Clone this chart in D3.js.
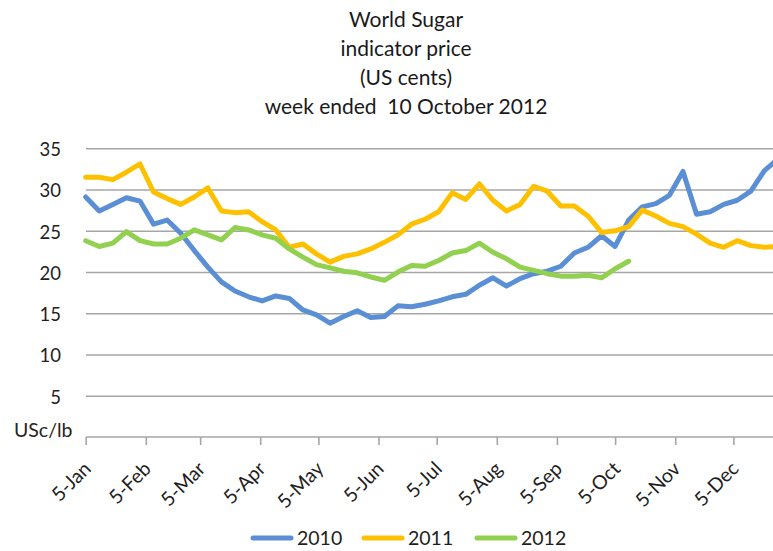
<!DOCTYPE html>
<html>
<head>
<meta charset="utf-8">
<script src="https://cdn.jsdelivr.net/npm/d3@7"></script>
<style>
  body { margin: 0; background: #fff; }
  svg { display: block; font-family: Lato, "Open Sans", sans-serif; }
</style>
</head>
<body>
<svg id="chart" width="773" height="551"></svg>
<script>
// --- Data ---
const titleLines = ["World Sugar", "indicator price", "(US cents)", "week ended  10 October 2012"];

// week dates (month-day), plotted on one calendar year
const weeks = [
  "01-05", "01-12", "01-19", "01-26", "02-02", "02-09", "02-16", "02-23",
  "03-02", "03-09", "03-16", "03-23", "03-30", "04-06", "04-13", "04-20", "04-27",
  "05-04", "05-11", "05-18", "05-25", "06-01", "06-08", "06-15", "06-22", "06-29",
  "07-06", "07-13", "07-20", "07-27", "08-03", "08-10", "08-17", "08-24", "08-31",
  "09-07", "09-14", "09-21", "09-28", "10-05", "10-12", "10-19", "10-26",
  "11-02", "11-09", "11-16", "11-23", "11-30", "12-07", "12-14", "12-21", "12-28"
];

const price2010 = [
  29.1, 27.4, 28.2, 29.0, 28.6, 25.8, 26.3, 24.7, 22.6, 20.6, 18.8, 17.7, 17.0,
  16.5, 17.1, 16.8, 15.4, 14.8, 13.8, 14.6, 15.3, 14.5, 14.6, 15.9, 15.8, 16.1,
  16.5, 17.0, 17.3, 18.4, 19.3, 18.3, 19.2, 19.8, 20.1, 20.7, 22.3, 23.0, 24.4,
  23.1, 26.3, 27.9, 28.3, 29.3, 32.2, 27.0, 27.3, 28.2, 28.7, 29.8, 32.3, 33.7
];
const price2011 = [
  31.5, 31.5, 31.2, 32.1, 33.1, 29.7, 28.9, 28.2, 29.1, 30.2, 27.4, 27.2, 27.3,
  26.1, 25.1, 23.0, 23.4, 22.2, 21.2, 21.9, 22.2, 22.8, 23.6, 24.5, 25.8, 26.4,
  27.3, 29.6, 28.8, 30.7, 28.7, 27.4, 28.2, 30.4, 29.8, 28.0, 28.0, 26.8, 24.8,
  25.0, 25.5, 27.5, 26.8, 25.9, 25.5, 24.6, 23.5, 23.0, 23.8, 23.2, 23.0, 23.1
];
const price2012 = [
  23.8, 23.1, 23.5, 24.9, 23.8, 23.4, 23.4, 24.1, 25.1, 24.5, 23.9, 25.4, 25.1,
  24.5, 24.1, 22.8, 21.8, 20.9, 20.5, 20.1, 19.9, 19.4, 19.0, 20.0, 20.8, 20.7,
  21.4, 22.3, 22.6, 23.5, 22.4, 21.6, 20.6, 20.2, 19.8, 19.5, 19.5, 19.6, 19.3,
  20.4, 21.3
];

const seriesNames = ["2010", "2011", "2012"];
const seriesValues = [price2010, price2011, price2012];
const seriesColors = ["#5a8fd6", "#ffc000", "#92d050"];

const yTicks = [5, 10, 15, 20, 25, 30, 35];
const xTickDates = ["01-05", "02-05", "03-05", "04-05", "05-05", "06-05",
                    "07-05", "08-05", "09-05", "10-05", "11-05", "12-05"];
const xTickLabels = ["5-Jan", "5-Feb", "5-Mar", "5-Apr", "5-May", "5-Jun",
                     "5-Jul", "5-Aug", "5-Sep", "5-Oct", "5-Nov", "5-Dec"];

// --- Setup ---
const svg = d3.select("#chart");
const W = +svg.attr("width");
const plotLeft = 86, plotRight = W, plotBottom = 437, plotTop = 148.3;
const parseDay = s => d3.timeParse("%Y-%m-%d")("2010-" + s);

const x = d3.scaleTime()
  .domain([parseDay("01-05"), parseDay("12-05")])
  .range([85.7, 733.4]);
const y = d3.scaleLinear()
  .domain([0, 35])
  .range([plotBottom, plotTop]);

// title
svg.append("g").selectAll("text")
  .data(titleLines)
  .join("text")
  .attr("x", 406)
  .attr("y", (d, i) => 26.5 + i * 29.3)
  .attr("text-anchor", "middle")
  .style("font-size", "21px")
  .style("fill", "#1a1a1a")
  .style("white-space", "pre")
  .text(d => d);

// y gridlines + labels
const yAxis = svg.append("g")
  .attr("transform", `translate(${plotLeft},0)`)
  .call(d3.axisLeft(y).tickValues(yTicks).tickSize(-(plotRight - plotLeft)).tickPadding(25));
yAxis.select(".domain").remove();
yAxis.selectAll(".tick line").attr("stroke", "#a6a6a6").attr("stroke-width", 1.6);
yAxis.selectAll(".tick text")
  .attr("dy", "0.4em")
  .style("font-size", "18.5px")
  .style("font-family", "Lato, sans-serif")
  .style("fill", "#1e1e1e");

svg.append("text")
  .attr("x", 14)
  .attr("y", 437)
  .style("font-size", "19.5px")
  .style("fill", "#2a2418")
  .text("USc/lb");

// x axis
svg.append("line")
  .attr("x1", plotLeft).attr("x2", plotRight)
  .attr("y1", plotBottom).attr("y2", plotBottom)
  .attr("stroke", "#a6a6a6").attr("stroke-width", 1.6);

const xAxis = svg.append("g")
  .attr("transform", `translate(0,${plotBottom})`)
  .call(d3.axisBottom(x)
    .tickValues(xTickDates.map(parseDay))
    .tickFormat((d, i) => xTickLabels[i])
    .tickSize(8)
    .tickSizeOuter(0));
xAxis.select(".domain").remove();
xAxis.selectAll(".tick line").attr("stroke", "#a6a6a6").attr("stroke-width", 1.6);
xAxis.selectAll(".tick text")
  .attr("x", 0).attr("y", 0).attr("dy", 0)
  .attr("text-anchor", "end")
  .attr("transform", "translate(6,33) rotate(-45)")
  .style("font-size", "19.5px")
  .style("font-family", "Lato, sans-serif")
  .style("fill", "#1e1e1e");

// lines
const line = d3.line()
  .x((d, i) => x(parseDay(weeks[i])))
  .y(d => y(d));

svg.append("g").selectAll("path")
  .data(seriesValues)
  .join("path")
  .attr("d", d => line(d))
  .attr("fill", "none")
  .attr("stroke", (d, i) => seriesColors[i])
  .attr("stroke-width", 5)
  .attr("stroke-linejoin", "round")
  .attr("stroke-linecap", "round");

// legend
const legendX = [253, 364, 477];
const legend = svg.append("g").selectAll("g")
  .data(seriesNames)
  .join("g")
  .attr("transform", (d, i) => `translate(${legendX[i]},538)`);
legend.append("line")
  .attr("x1", 0).attr("x2", 38)
  .attr("stroke", (d, i) => seriesColors[i])
  .attr("stroke-width", 5)
  .attr("stroke-linecap", "round");
legend.append("text")
  .attr("x", 44)
  .attr("y", 7)
  .style("font-size", "19.5px")
  .style("fill", "#1e1e1e")
  .text(d => d);
</script>
</body>
</html>
